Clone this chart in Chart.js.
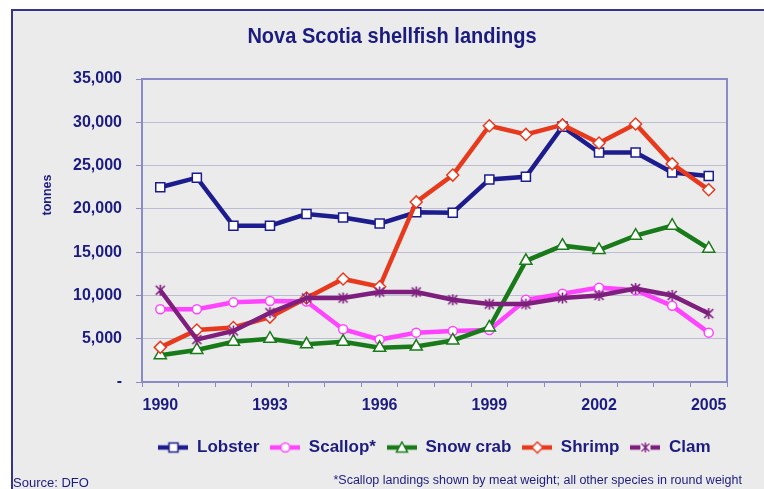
<!DOCTYPE html>
<html>
<head>
<meta charset="utf-8">
<title>Nova Scotia shellfish landings</title>
<script src="https://cdn.jsdelivr.net/npm/chart.js@4.4.1/dist/chart.umd.min.js"></script>
<style>
  html, body { margin: 0; padding: 0; background: #fff; }
  #wrap { width: 764px; height: 489px; }
</style>
</head>
<body>
<div id="wrap"><canvas id="landingsChart" width="764" height="489"></canvas></div>
<script>
// landings in tonnes, 1990-2005
const years = ['1990', '1991', '1992', '1993', '1994', '1995', '1996', '1997',
               '1998', '1999', '2000', '2001', '2002', '2003', '2004', '2005'];
const lobster  = [22500, 23600, 18050, 18050, 19400, 19000, 18300, 19600, 19550, 23400, 23700, 29500, 26500, 26500, 24200, 23800];
const scallop  = [8400, 8400, 9200, 9350, 9300, 6100, 4900, 5700, 5900, 6000, 9500, 10200, 10900, 10600, 8800, 5700];
const snowCrab = [3100, 3700, 4650, 5000, 4350, 4650, 3950, 4100, 4800, 6300, 14000, 15750, 15250, 16900, 18050, 15400];
const shrimp   = [4000, 6000, 6300, 7500, 9700, 11900, 11000, 20800, 23900, 29600, 28600, 29700, 27600, 29800, 25200, 22200];
const clam     = [10600, 4900, 5900, 8000, 9700, 9700, 10400, 10400, 9500, 9000, 9000, 9700, 10000, 10800, 10000, 7900];
const yTicks   = [0, 5000, 10000, 15000, 20000, 25000, 30000, 35000];

const NAVY = '#1c1c80';
const AXIS = '#8a8ac6';
const FONT = "'Liberation Sans', Arial, sans-serif";

const colors = {
    lobster: '#1c1c8e',
    scallop: '#ff44ff',
    snowCrab: '#187a18',
    shrimp: '#e8391d',
    clam: '#7e1f7e'
};

// Excel-style "star" marker: an X with a vertical stroke
function starMarker(color) {
    const c = document.createElement('canvas');
    c.width = 13; c.height = 13;
    const g = c.getContext('2d');
    g.strokeStyle = color;
    g.lineWidth = 1.6;
    g.beginPath();
    g.moveTo(2, 2); g.lineTo(11, 11);
    g.moveTo(11, 2); g.lineTo(2, 11);
    g.moveTo(6.5, 1); g.lineTo(6.5, 12);
    g.stroke();
    return c;
}

// legend swatch: short thick line with the series marker in the middle
function legendIcon(color, shape) {
    const c = document.createElement('canvas');
    c.width = 30; c.height = 14;
    const g = c.getContext('2d');
    g.strokeStyle = color;
    g.lineWidth = 4.5;
    g.beginPath();
    g.moveTo(0, 7); g.lineTo(30, 7);
    g.stroke();
    g.lineWidth = 1.5;
    g.fillStyle = '#fff';
    g.beginPath();
    if (shape === 'rect') {
        g.rect(10.5, 2.5, 9, 9);
    } else if (shape === 'circle') {
        g.arc(15, 7, 4.5, 0, Math.PI * 2);
    } else if (shape === 'triangle') {
        g.moveTo(15, 1.5); g.lineTo(20.5, 11.5); g.lineTo(9.5, 11.5); g.closePath();
    } else if (shape === 'rectRot') {
        g.moveTo(15, 1.5); g.lineTo(20.5, 7); g.lineTo(15, 12.5); g.lineTo(9.5, 7); g.closePath();
    }
    if (shape === 'star') {
        g.fillRect(10, 2, 10, 10);
        g.moveTo(11, 3); g.lineTo(19, 11);
        g.moveTo(19, 3); g.lineTo(11, 11);
        g.moveTo(15, 2); g.lineTo(15, 12);
        g.stroke();
    } else {
        g.fill();
        g.stroke();
    }
    return c;
}

const legendIcons = [
    legendIcon(colors.lobster, 'rect'),
    legendIcon(colors.scallop, 'circle'),
    legendIcon(colors.snowCrab, 'triangle'),
    legendIcon(colors.shrimp, 'rectRot'),
    legendIcon(colors.clam, 'star')
];

function series(label, data, color, pointStyle, radius, order) {
    return {
        label: label,
        data: data,
        borderColor: color,
        backgroundColor: color,
        borderWidth: 4.5,
        pointStyle: pointStyle,
        pointRadius: radius,
        pointBorderColor: color,
        pointBackgroundColor: '#ffffff',
        pointBorderWidth: 1.5,
        tension: 0,
        order: order
    };
}

// frame, plot border and loose text
const decorations = {
    id: 'decorations',
    beforeDraw(chart) {
        const ctx = chart.ctx;
        ctx.save();
        ctx.fillStyle = '#ffffff';
        ctx.fillRect(0, 0, chart.width, chart.height);
        ctx.fillStyle = '#ebebeb';
        ctx.fillRect(11, 9, chart.width - 11, chart.height - 9);
        ctx.strokeStyle = '#34348a';
        ctx.lineWidth = 2;
        ctx.beginPath();
        ctx.moveTo(11, 10); ctx.lineTo(chart.width, 10);
        ctx.moveTo(12, 9); ctx.lineTo(12, chart.height);
        ctx.stroke();
        ctx.restore();
    },
    beforeDatasetsDraw(chart) {
        const {ctx, chartArea} = chart;
        ctx.save();
        ctx.strokeStyle = AXIS;
        ctx.lineWidth = 2;
        ctx.strokeRect(chartArea.left, chartArea.top, chartArea.right - chartArea.left, chartArea.bottom - chartArea.top);
        ctx.restore();
    },
    afterDraw(chart) {
        const ctx = chart.ctx;
        ctx.save();
        ctx.fillStyle = NAVY;
        // chart title, slightly condensed
        ctx.textAlign = 'center';
        ctx.textBaseline = 'middle';
        ctx.font = 'bold 22px ' + FONT;
        ctx.translate(392, 37);
        ctx.scale(0.91, 1);
        ctx.fillText('Nova Scotia shellfish landings', 0, 0);
        ctx.setTransform(1, 0, 0, 1, 0, 0);
        // axis title
        ctx.translate(48, 195);
        ctx.rotate(-Math.PI / 2);
        ctx.font = 'bold 12.5px ' + FONT;
        ctx.fillText('tonnes', 0, 0);
        ctx.setTransform(1, 0, 0, 1, 0, 0);
        // source and footnote
        ctx.textBaseline = 'alphabetic';
        ctx.textAlign = 'left';
        ctx.font = '13px ' + FONT;
        ctx.fillText('Source: DFO', 13, 487);
        ctx.textAlign = 'right';
        ctx.font = '12.5px ' + FONT;
        ctx.fillText('*Scallop landings shown by meat weight; all other species in round weight', 742, 484);
        ctx.restore();
    }
};

const ctx = document.getElementById('landingsChart').getContext('2d');
const chart = new Chart(ctx, {
    type: 'line',
    data: {
        labels: years,
        datasets: [
            series('Lobster', lobster, colors.lobster, 'rect', 6.4, 5),
            series('Scallop*', scallop, colors.scallop, 'circle', 4.5, 4),
            series('Snow crab', snowCrab, colors.snowCrab, 'triangle', 7, 3),
            series('Shrimp', shrimp, colors.shrimp, 'rectRot', 6, 2),
            series('Clam', clam, colors.clam, starMarker(colors.clam), 6, 1)
        ]
    },
    options: {
        responsive: false,
        animation: false,
        layout: {
            padding: { left: 12, right: 37, top: 79, bottom: 23 }
        },
        plugins: {
            title: { display: false },
            legend: {
                position: 'bottom',
                fullSize: false,
                labels: {
                    usePointStyle: true,
                    pointStyleWidth: 30,
                    padding: 11,
                    color: NAVY,
                    font: { family: FONT, size: 17, weight: 'bold' },
                    generateLabels(chart) {
                        // keep the legend in dataset order, not drawing order
                        const items = Chart.defaults.plugins.legend.labels.generateLabels(chart);
                        items.sort((a, b) => a.datasetIndex - b.datasetIndex);
                        items.forEach(item => { item.pointStyle = legendIcons[item.datasetIndex]; });
                        return items;
                    }
                }
            },
            tooltip: { enabled: false }
        },
        scales: {
            x: {
                offset: true,
                afterFit(scale) { scale.height = 46; },
                grid: {
                    offset: true,
                    drawOnChartArea: false,
                    tickLength: 5,
                    tickColor: AXIS
                },
                border: { color: AXIS, width: 2 },
                ticks: {
                    autoSkip: false,
                    maxRotation: 0,
                    padding: 9,
                    color: NAVY,
                    font: { family: FONT, size: 16, weight: 'bold' },
                    callback: (value, index) => index % 3 === 0 ? years[index] : ''
                }
            },
            y: {
                min: yTicks[0],
                max: yTicks[yTicks.length - 1],
                afterFit(scale) { scale.width = 130; },
                afterBuildTicks(scale) { scale.ticks = yTicks.map(v => ({ value: v })); },
                grid: {
                    color: '#bcbcd4',
                    lineWidth: 1,
                    tickLength: 6,
                    tickColor: AXIS
                },
                border: { color: AXIS, width: 2 },
                ticks: {
                    padding: 14,
                    color: NAVY,
                    font: { family: FONT, size: 16, weight: 'bold' },
                    callback: v => v === 0 ? '-' : v.toLocaleString('en-US')
                }
            }
        }
    },
    plugins: [decorations]
});
</script>
</body>
</html>
